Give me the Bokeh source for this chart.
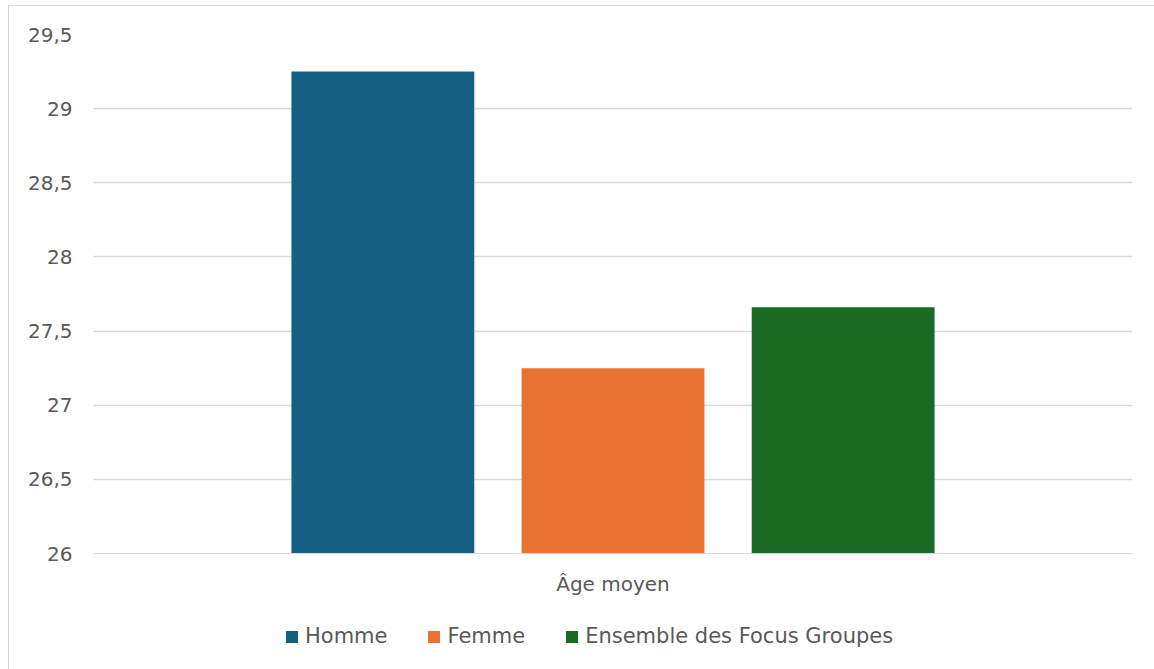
from bokeh.plotting import figure
from bokeh.layouts import column
from bokeh.models import FactorRange, Range1d, FixedTicker, Legend, LegendItem
from bokeh.transform import dodge
from bokeh.embed import file_html
from bokeh.resources import INLINE

# ---- data ----
category = ["Âge moyen"]
series_names = ["Homme", "Femme", "Ensemble des Focus Groupes"]
series_values = [29.25, 27.25, 27.66]
series_colors = ["#156082", "#E97132", "#196B24"]
y_ticks = [26, 26.5, 27, 27.5, 28, 28.5, 29, 29.5]
y_tick_labels = ["26", "26,5", "27", "27,5", "28", "28,5", "29", "29,5"]

FONT = "DejaVu Sans"
FSIZE = "20px"
TXT = "#595959"
GRID = "#D9D9D9"

p = figure(
    x_range=FactorRange(*category, range_padding=0),
    y_range=Range1d(26, 29.5),
    width=1145, height=604,
    output_backend="svg", toolbar_location=None,
    min_border_left=84, min_border_top=28, min_border_right=22, min_border_bottom=57,
)
p.outline_line_color = None
p.background_fill_color = "white"
p.border_fill_color = "white"

offsets = [-0.2215, 0.0, 0.2215]
for name, val, col, off in zip(series_names, series_values, series_colors, offsets):
    p.vbar(x=dodge("x", off, range=p.x_range), top="top", bottom=26, width=0.176,
           source={"x": category, "top": [val]}, fill_color=col, line_color=None)

# y axis
p.yaxis.ticker = FixedTicker(ticks=y_ticks)
p.yaxis.major_label_overrides = {t: l for t, l in zip(y_ticks, y_tick_labels)}
p.yaxis.axis_line_color = None
p.yaxis.major_tick_line_color = None
p.yaxis.minor_tick_line_color = None
p.yaxis.major_label_standoff = 15
p.yaxis.major_label_text_font = FONT
p.yaxis.major_label_text_font_size = FSIZE
p.yaxis.major_label_text_color = TXT

# x axis
p.xaxis.axis_line_color = GRID
p.xaxis.major_tick_line_color = None
p.xaxis.minor_tick_line_color = None
p.xaxis.major_label_standoff = 12
p.xaxis.major_label_text_font = FONT
p.xaxis.major_label_text_font_size = FSIZE
p.xaxis.major_label_text_color = TXT

p.xgrid.grid_line_color = None
p.ygrid.grid_line_color = GRID
p.ygrid.grid_line_width = 1.5

# legend strip (legend proxies: zero-size bars)
p2 = figure(width=1145, height=59, x_range=Range1d(0, 1), y_range=Range1d(0, 1),
            x_axis_type=None, y_axis_type=None, output_backend="svg",
            toolbar_location=None, min_border=0)
p2.outline_line_color = None
p2.xgrid.grid_line_color = None
p2.ygrid.grid_line_color = None
items = []
for name, col in zip(series_names, series_colors):
    r = p2.vbar(x=[0.5], top=[0], bottom=[0], width=0, fill_color=col, line_color=None)
    items.append(LegendItem(label=name, renderers=[r]))
legend = Legend(items=items, orientation="horizontal", location=(191, 21),
                label_text_font=FONT, label_text_font_size="21px", label_text_color=TXT,
                glyph_width=15, glyph_height=15, label_standoff=6, spacing=39,
                border_line_color=None, background_fill_alpha=0, margin=0, padding=0)
p2.add_layout(legend)

layout = column(p, p2, spacing=0,
                styles={"margin-left": "8px", "margin-top": "5px",
                        "border-left": "1px solid #D9D9D9", "border-top": "1px solid #D9D9D9"})

open("out.html", "w").write(file_html(layout, INLINE))
